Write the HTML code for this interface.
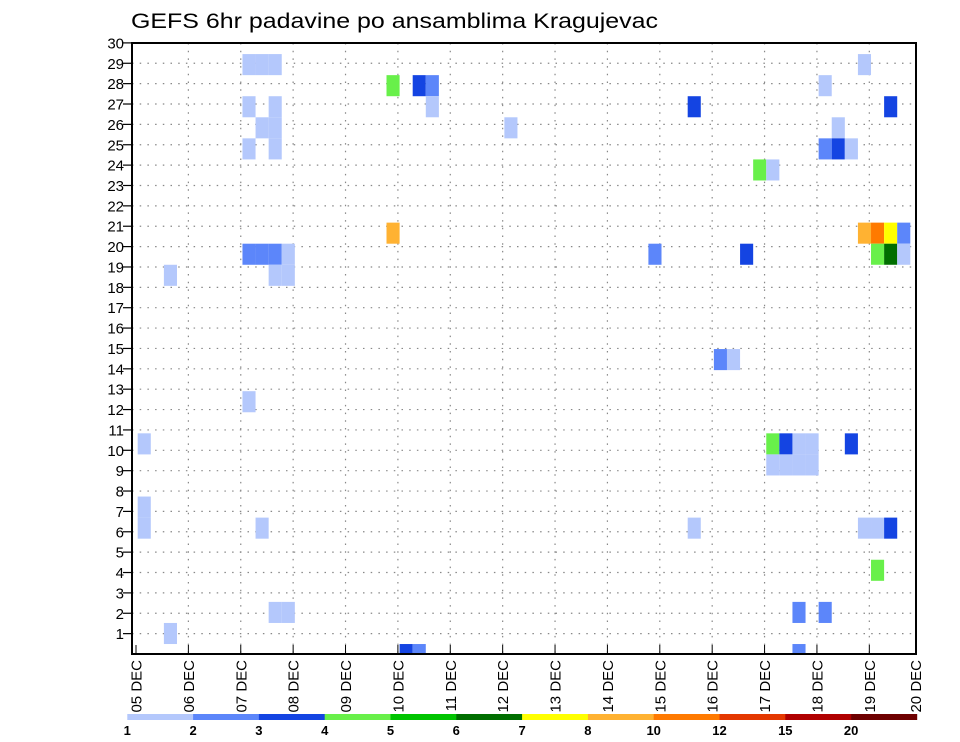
<!DOCTYPE html>
<html><head><meta charset="utf-8"><style>
html,body{margin:0;padding:0;background:#fff;}
svg{display:block;font-family:"Liberation Sans",sans-serif;}
</style></head><body>
<svg id="chart" width="960" height="742" viewBox="0 0 960 742" xmlns="http://www.w3.org/2000/svg">
<text x="131" y="28" font-size="21" textLength="527" lengthAdjust="spacingAndGlyphs" fill="#000">GEFS 6hr padavine po ansamblima Kragujevac</text>
<g id="grid"></g>
<g id="cells"></g>
<g id="axes"></g>
<g id="legend"></g>
</svg>
<script>
// data
const dayLabels = ["05 DEC","06 DEC","07 DEC","08 DEC","09 DEC","10 DEC","11 DEC","12 DEC","13 DEC","14 DEC","15 DEC","16 DEC","17 DEC","18 DEC","19 DEC","20 DEC"];
const memberLabels = [1,2,3,4,5,6,7,8,9,10,11,12,13,14,15,16,17,18,19,20,21,22,23,24,25,26,27,28,29,30];
const levelBounds = [1,2,3,4,5,6,7,8,10,12,15,20];
const levelColors = ["#b4c8fc","#5c86fa","#1444e2","#68f04a","#00c400","#006e00","#ffff00","#ffb232","#ff7a00","#e43800","#b00000","#6e0000"];
// cells: 6-hour step index, member row index, precipitation value
const cellStep   = [8,9,10,55, 19,21,22,52, 8,10,22,42,57, 9,10,28,53, 8,10,52,53,54, 47,48, 19,55,56,57,58, 8,9,10,11,39,46,56,57,58, 2,10,11, 44,45, 8, 0,48,49,50,51,54, 48,49,50,51, 0, 0,9,42,55,56,57, 56, 10,11,50,52, 2, 20,21,50];
const cellMember = [28,28,28,28, 27,27,27,27, 26,26,26,26,26, 25,25,25,25, 24,24,24,24,24, 23,23, 20,20,20,20,20, 19,19,19,19,19,19,19,19,19, 18,18,18, 14,14, 12, 10,10,10,10,10,10, 9,9,9,9, 7, 6,6,6,6,6,6, 4, 2,2,2,2, 1, 0,0,0];
const cellValue  = [1.5,1.5,1.5,1.5, 4.5,3.5,2.5,1.5, 1.5,1.5,1.5,3.5,3.5, 1.5,1.5,1.5,1.5, 1.5,1.5,2.5,3.5,1.5, 4.5,1.5, 9,9,11,7.5,2.5, 2.5,2.5,2.5,1.5,2.5,3.5,4.5,6.5,1.5, 1.5,1.5,1.5, 2.5,1.5, 1.5, 1.5,4.5,3.5,1.5,1.5,3.5, 1.5,1.5,1.5,1.5, 1.5, 1.5,1.5,1.5,1.5,1.5,3.5, 4.5, 1.5,1.5,2.5,2.5, 1.5, 3.5,2.5,2.5];

const NS="http://www.w3.org/2000/svg";
const L=132,R=916,T=43,B=654;
function xDay(d){return Math.min(136+52.38*d,915.5);}
function yTick(k){return 654-20.37*k;}
function xStep(n){return 137.7+13.095*n;}
function yMemberBottom(m){return 665.1-21.07*m;}
function colorFor(v){let c=levelColors[0];for(let i=0;i<levelBounds.length;i++){if(v>=levelBounds[i])c=levelColors[i];}return c;}
function mk(tag,attrs,parent){const e=document.createElementNS(NS,tag);for(const k in attrs)e.setAttribute(k,attrs[k]);parent.appendChild(e);return e;}

const grid=document.getElementById('grid');
memberLabels.forEach((lab,i)=>{
  const y=yTick(lab);
  if(lab<30){
    const g=mk('line',{x1:L,x2:R,y1:y,y2:y,stroke:'#888','stroke-width':1.2,'stroke-dasharray':'1.5 6.2'},grid);
    
    
  }
});
dayLabels.forEach((lab,d)=>{
  const x=xDay(d);
  if(d>0&&d<15){
    const g=mk('line',{x1:x,x2:x,y1:T,y2:B,stroke:'#888','stroke-width':1.2,'stroke-dasharray':'1.5 6.2'},grid);
    
    
  }
});

const cells=document.getElementById('cells');
for(let i=0;i<cellStep.length;i++){
  let x0=xStep(cellStep[i]),x1=x0+13.095;
  let yb=yMemberBottom(cellMember[i]),yt=yb-21.07;
  x0=Math.max(x0,L);x1=Math.min(x1,R);yt=Math.max(yt,T);yb=Math.min(yb,B);
  const r=mk('rect',{x:x0,y:yt,width:x1-x0,height:yb-yt,fill:colorFor(cellValue[i])},cells);
  
  
}

const axes=document.getElementById('axes');
const frame=mk('rect',{x:L,y:T,width:R-L,height:B-T,fill:'none',stroke:'#000','stroke-width':2},axes);


memberLabels.forEach(lab=>{
  const y=yTick(lab);
  const t=mk('line',{x1:L-9,x2:L,y1:y,y2:y,stroke:'#000','stroke-width':1.2},axes);
  
  
  const tx=mk('text',{x:124,y:y+5.5,'font-size':15,'text-anchor':'end',fill:'#000'},axes);
  tx.textContent=lab;
  
  
});
dayLabels.forEach((lab,d)=>{
  const x=xDay(d);
  const t=mk('line',{x1:x,x2:x,y1:B-9,y2:B,stroke:'#000','stroke-width':1},axes);
  
  
  const tx=mk('text',{x:0,y:0,'font-size':15,'text-anchor':'end',fill:'#000',transform:`translate(${x+5.5},660) rotate(-90)`},axes);
  tx.textContent=lab;
  
  
});

const legend=document.getElementById('legend');
const segW=65.8,lx=127.3;
levelColors.forEach((c,i)=>{
  const r=mk('rect',{x:lx+i*segW,y:714,width:segW+0.3,height:6,fill:c},legend);
  
  
  const tx=mk('text',{x:lx+i*segW,y:735,'font-size':13,'font-weight':'bold','text-anchor':'middle',fill:'#000'},legend);
  tx.textContent=levelBounds[i];
  
  
});
</script>
</body></html>
